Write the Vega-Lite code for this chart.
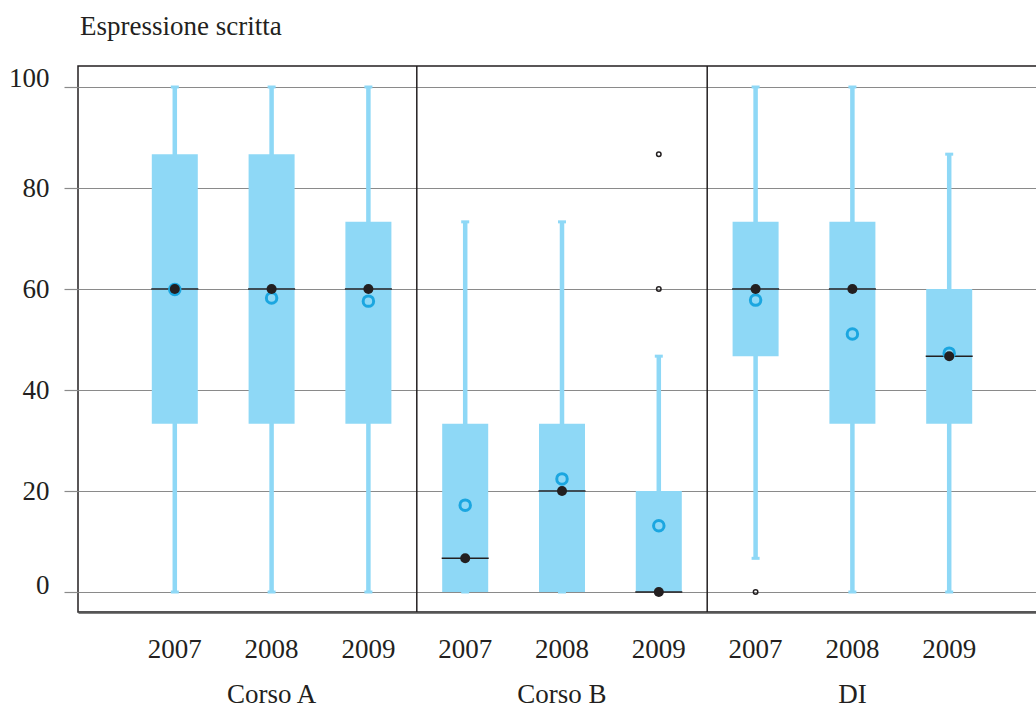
{
  "$schema": "https://vega.github.io/schema/vega-lite/v6.json",
  "autosize": "none",
  "padding": {"left": 78, "top": 66, "right": 0, "bottom": 99},
  "width": 968,
  "height": 546,
  "background": "white",
  "title": {
    "text": "Espressione scritta",
    "anchor": "start",
    "frame": "group",
    "font": "Liberation Serif",
    "fontSize": 27,
    "fontWeight": "normal",
    "color": "#231f20",
    "baseline": "bottom",
    "offset": -4,
    "dx": 2
  },
  "config": {
    "view": {"stroke": "#231f20", "strokeWidth": 1.5},
    "axis": {
      "labelFont": "Liberation Serif",
      "labelFontSize": 27,
      "labelColor": "#231f20",
      "titleFont": "Liberation Serif"
    }
  },
  "datasets": {
    "boxes": [
      {"key": "Corso A|2007", "group": "Corso A", "year": "2007", "lo": 0, "q1": 33.3, "med": 60, "q3": 86.7, "hi": 100, "mean": 59.9},
      {"key": "Corso A|2008", "group": "Corso A", "year": "2008", "lo": 0, "q1": 33.3, "med": 60, "q3": 86.7, "hi": 100, "mean": 58.2},
      {"key": "Corso A|2009", "group": "Corso A", "year": "2009", "lo": 0, "q1": 33.3, "med": 60, "q3": 73.3, "hi": 100, "mean": 57.6},
      {"key": "Corso B|2007", "group": "Corso B", "year": "2007", "lo": 0, "q1": 0, "med": 6.67, "q3": 33.3, "hi": 73.3, "mean": 17.2},
      {"key": "Corso B|2008", "group": "Corso B", "year": "2008", "lo": 0, "q1": 0, "med": 20, "q3": 33.3, "hi": 73.3, "mean": 22.4},
      {"key": "Corso B|2009", "group": "Corso B", "year": "2009", "lo": 0, "q1": 0, "med": 0, "q3": 20, "hi": 46.7, "mean": 13.1},
      {"key": "DI|2007", "group": "DI", "year": "2007", "lo": 6.67, "q1": 46.7, "med": 60, "q3": 73.3, "hi": 100, "mean": 57.8},
      {"key": "DI|2008", "group": "DI", "year": "2008", "lo": 0, "q1": 33.3, "med": 60, "q3": 73.3, "hi": 100, "mean": 51.1},
      {"key": "DI|2009", "group": "DI", "year": "2009", "lo": 0, "q1": 33.3, "med": 46.7, "q3": 60, "hi": 86.7, "mean": 47.3}
    ],
    "outliers": [
      {"key": "Corso B|2009", "value": 86.7},
      {"key": "Corso B|2009", "value": 60},
      {"key": "DI|2007", "value": 0}
    ],
    "dividers": [
      {"key": "Corso A|2009"},
      {"key": "Corso B|2009"}
    ]
  },
  "encoding": {
    "x": {
      "field": "key",
      "type": "nominal",
      "scale": {
        "domain": ["Corso A|2007", "Corso A|2008", "Corso A|2009", "Corso B|2007", "Corso B|2008", "Corso B|2009", "DI|2007", "DI|2008", "DI|2009"],
        "paddingInner": 0,
        "paddingOuter": 0.5
      },
      "axis": {
        "title": null,
        "labelAngle": 0,
        "ticks": false,
        "tickSize": 0,
        "labelPadding": 24,
        "labelLineHeight": 45,
        "labelExpr": "split(datum.value,'|')[1] == '2008' ? [split(datum.value,'|')[1], split(datum.value,'|')[0]] : split(datum.value,'|')[1]",
        "domainColor": "#555555",
        "domainWidth": 2.5,
        "grid": false
      }
    }
  },
  "layer": [
    {
      "data": {"name": "boxes"},
      "mark": {"type": "rule", "color": "#8ed8f6", "strokeWidth": 4.5},
      "encoding": {
        "y": {
          "field": "lo",
          "type": "quantitative",
          "scale": {"domain": [-3.96, 104.16], "nice": false, "zero": false},
          "axis": {
            "title": null,
            "values": [0, 20, 40, 60, 80, 100],
            "domain": false,
            "grid": true,
            "gridColor": "#8a8a8a",
            "gridWidth": 1.2,
            "gridOpacity": 1,
            "tickColor": "#8a8a8a",
            "tickWidth": 1.2,
            "tickSize": 14,
            "labelPadding": 15,
            "labelOffset": {"condition": [{"test": "datum.value == 100", "value": -9}, {"test": "datum.value == 0", "value": -7}], "value": 0}
          }
        },
        "y2": {"field": "hi"}
      }
    },
    {
      "data": {"name": "boxes"},
      "mark": {"type": "tick", "orient": "horizontal", "color": "#8ed8f6", "size": 8, "thickness": 3, "opacity": 1},
      "encoding": {"y": {"field": "lo", "type": "quantitative"}}
    },
    {
      "data": {"name": "boxes"},
      "mark": {"type": "tick", "orient": "horizontal", "color": "#8ed8f6", "size": 8, "thickness": 3, "opacity": 1},
      "encoding": {"y": {"field": "hi", "type": "quantitative"}}
    },
    {
      "data": {"name": "boxes"},
      "mark": {"type": "bar", "color": "#8ed8f6", "size": 46},
      "encoding": {
        "y": {"field": "q1", "type": "quantitative"},
        "y2": {"field": "q3"}
      }
    },
    {
      "data": {"name": "boxes"},
      "mark": {"type": "tick", "orient": "horizontal", "color": "#231f20", "size": 47, "thickness": 1.5, "opacity": 1},
      "encoding": {"y": {"field": "med", "type": "quantitative"}}
    },
    {
      "data": {"name": "boxes"},
      "mark": {"type": "point", "shape": "circle", "filled": false, "stroke": "#1ba6e0", "strokeWidth": 3, "size": 110, "opacity": 1},
      "encoding": {"y": {"field": "mean", "type": "quantitative"}}
    },
    {
      "data": {"name": "boxes"},
      "mark": {"type": "point", "shape": "circle", "filled": true, "color": "#231f20", "size": 100, "opacity": 1},
      "encoding": {"y": {"field": "med", "type": "quantitative"}}
    },
    {
      "data": {"name": "outliers"},
      "mark": {"type": "point", "shape": "circle", "filled": false, "stroke": "#231f20", "strokeWidth": 1.5, "size": 20, "opacity": 1},
      "encoding": {"y": {"field": "value", "type": "quantitative"}}
    },
    {
      "data": {"name": "dividers"},
      "mark": {"type": "rule", "color": "#231f20", "strokeWidth": 1.5},
      "encoding": {"x": {"field": "key", "type": "nominal", "bandPosition": 1}}
    }
  ]
}
